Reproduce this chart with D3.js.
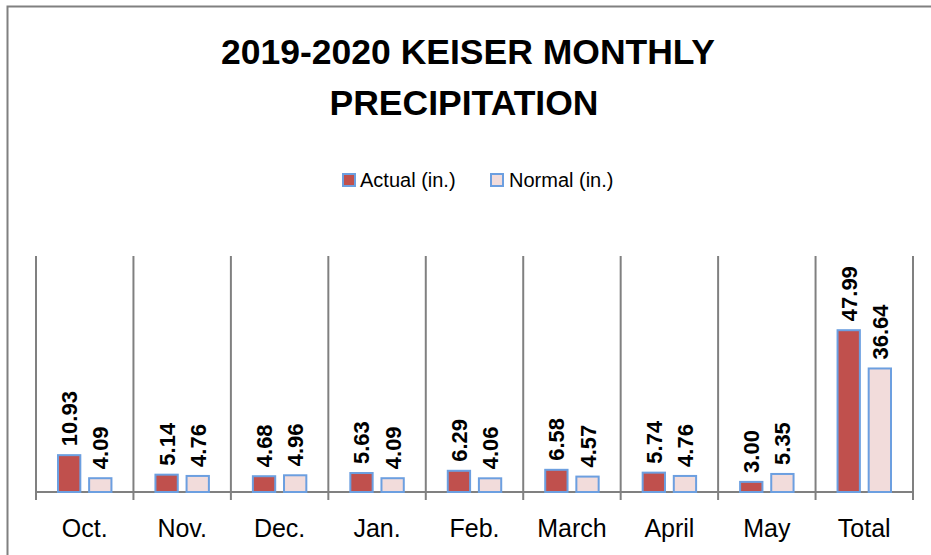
<!DOCTYPE html>
<html><head><meta charset="utf-8">
<script src="https://cdn.jsdelivr.net/npm/d3@7"></script>
<style>body{margin:0;background:#fff}svg{display:block}</style>
</head><body><svg id="c" width="931" height="555"></svg>
<script>
const categories = ["Oct.","Nov.","Dec.","Jan.","Feb.","March","April","May","Total"];
const actual = [10.93,5.14,4.68,5.63,6.29,6.58,5.74,3.00,47.99];
const normal = [4.09,4.76,4.96,4.09,4.06,4.57,4.76,5.35,36.64];
const seriesNames = ["Actual (in.)","Normal (in.)"];
const colors = ["#C0504D","#F2DCDB"];

const svg = d3.select("#c");
const font = "'Liberation Sans', Arial, sans-serif";
// outer border
svg.append("rect").attr("x",7.5).attr("y",6.5).attr("width",940).attr("height",560)
  .attr("fill","none").attr("stroke","#808080").attr("stroke-width",2);

svg.append("text").attr("x",468).attr("y",64).attr("text-anchor","middle")
  .attr("font-family",font).attr("font-weight","bold").attr("font-size",35.5).text("2019-2020 KEISER MONTHLY");
svg.append("text").attr("x",464).attr("y",115).attr("text-anchor","middle")
  .attr("font-family",font).attr("font-weight","bold").attr("font-size",35.5).text("PRECIPITATION");

const left=36, right=913, base=492;
const x = d3.scaleBand().domain(categories).range([left,right]).paddingInner(0).paddingOuter(0);
const x1 = d3.scaleBand().domain([0,1]).range([22, x.bandwidth()-22]).paddingInner(15/53);
const y = d3.scaleLinear().domain([0,70]).range([base,256]);

// separators
const bounds = categories.map(c=>x(c)).concat([right]);
svg.selectAll("line.sep").data(bounds).join("line")
  .attr("x1",d=>d).attr("x2",d=>d).attr("y1",y(70)).attr("y2",base+8)
  .attr("stroke","#808080").attr("stroke-width",2);
svg.append("line").attr("x1",left).attr("x2",right).attr("y1",base).attr("y2",base)
  .attr("stroke","#808080").attr("stroke-width",2);

const series=[actual,normal];
series.forEach((vals,si)=>{
  const g=svg.append("g");
  g.selectAll("rect").data(vals).join("rect")
    .attr("x",(d,i)=>x(categories[i])+x1(si)).attr("width",x1.bandwidth())
    .attr("y",d=>y(d)).attr("height",d=>base-y(d))
    .attr("fill",colors[si]).attr("stroke","#6C9FE0").attr("stroke-width",2);
  g.selectAll("text").data(vals).join("text")
    .attr("transform",(d,i)=>`translate(${x(categories[i])+x1(si)+x1.bandwidth()/2+8},${y(d)-9}) rotate(-90)`)
    .attr("font-family",font).attr("font-weight","bold").attr("font-size",22)
    .text(d=>d.toFixed(2));
});

svg.selectAll("text.cat").data(categories).join("text")
  .attr("x",d=>x(d)+x.bandwidth()/2).attr("y",537).attr("text-anchor","middle")
  .attr("font-family",font).attr("font-size",25).text(d=>d);

// legend
const lg=[{x:343,tx:360},{x:491,tx:509}];
lg.forEach((l,i)=>{
  svg.append("rect").attr("x",l.x).attr("y",174).attr("width",12).attr("height",12)
    .attr("fill",colors[i]).attr("stroke","#6C9FE0").attr("stroke-width",2);
  svg.append("text").attr("x",l.tx).attr("y",187).attr("font-family",font).attr("font-size",20).text(seriesNames[i]);
});
</script></body></html>
